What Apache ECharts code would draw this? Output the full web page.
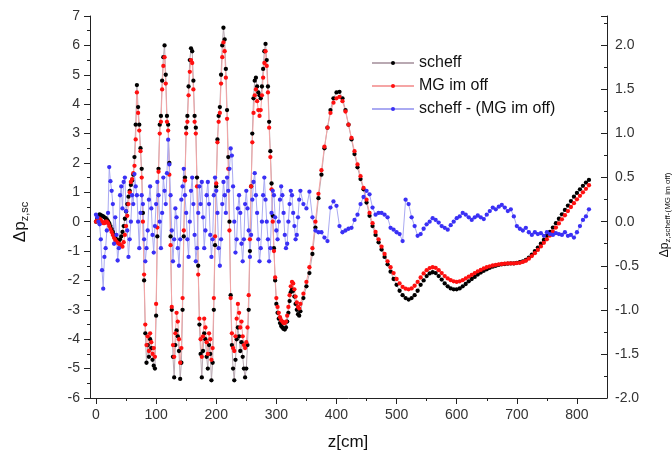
<!DOCTYPE html>
<html>
<head>
<meta charset="utf-8">
<script src="https://cdn.jsdelivr.net/npm/echarts@6/dist/echarts.min.js"></script>
<style>
html,body{margin:0;padding:0;background:#fff;}
#chart{width:672px;height:461px;}
</style>
</head>
<body>
<div id="chart"></div>
<script>
// ---- data ----
const zPos = [
0,2,4,6,8,10,12,14,16,18,
20,22,24,26,28,30,32,34,36,38,
40,42,44,46,48,50,52,54,56,58,
60,62,64,66,68,70,72,74,76,78,
80,82,84,86,88,90,92,94,96,98,
100,102,104,106,108,110,112,114,116,118,
120,122,124,126,128,130,132,134,136,138,
140,142,144,146,148,150,152,154,156,158,
160,162,164,166,168,170,172,174,176,178,
180,182,184,186,188,190,192,194,196,198,
200,202,204,206,208,210,212,214,216,218,
220,222,224,226,228,230,232,234,236,238,
240,242,244,246,248,250,252,254,256,258,
260,262,264,266,268,270,272,274,276,278,
280,282,284,286,288,290,292,294,296,298,
300,302,304,306,308,310,312,314,316,318,
320,322,324,326,328,330,332,334,336,338,340,
345,350,355,360,365,370,375,380,385,390,
395,400,405,410,415,420,425,430,435,440,
445,450,455,460,465,470,475,480,485,490,
495,500,505,510,515,520,525,530,535,540,
545,550,555,560,565,570,575,580,585,590,
595,600,605,610,615,620,625,630,635,640,
645,650,655,660,665,670,675,680,685,690,
695,700,705,710,715,720,725,730,735,740,
745,750,755,760,765,770,775,780,785,790,
795,800,805,810,815,820
];

const scheff = [
0.0,0.1,0.2,0.25,0.22,0.2,0.18,0.15,0.12,0.08,
0.02,-0.05,-0.15,-0.25,-0.35,-0.45,-0.55,-0.6,-0.65,-0.65,
-0.6,-0.5,-0.35,-0.15,0.1,0.35,0.6,0.85,1.05,1.25,
1.4,1.6,2.2,3.3,4.65,3.9,3.3,2.5,1.8,0.3,
-2.0,-3.8,-4.8,-4.2,-4.6,-4.0,-4.3,-4.7,-4.9,-5.0,
-3.2,-0.5,1.8,3.3,3.6,4.8,5.6,6.0,5.0,3.6,
3.3,2.0,-0.5,-3.0,-4.6,-5.3,-4.2,-3.7,-3.9,-4.4,
-5.35,-4.8,-3.0,-0.5,1.5,3.2,3.6,4.6,5.5,5.9,
5.8,4.8,3.6,3.2,1.5,-1.5,-3.5,-4.5,-5.3,-4.4,
-3.8,-4.0,-4.6,-5.0,-4.2,-4.5,-5.4,-4.8,-3.0,-0.8,
1.2,2.8,3.6,3.9,5.0,6.0,6.6,6.2,5.2,3.8,
2.2,0.0,-2.5,-4.2,-5.0,-5.4,-4.7,-4.0,-3.6,-3.9,
-4.4,-4.1,-4.6,-5.0,-5.3,-5.0,-4.2,-3.0,-1.0,1.2,
3.0,4.2,4.8,4.9,4.6,4.4,4.3,4.2,4.6,5.2,
5.8,6.05,5.5,4.6,3.4,2.4,1.3,0.2,-0.9,-2.0,
-2.8,-3.1,-3.3,-3.45,-3.55,-3.6,-3.65,-3.67,-3.6,-3.4,
-3.1,-2.7,-2.4,-2.3,-2.35,-2.55,-2.8,-3.0,-3.15,-3.2,-3.05,
-2.6,-2.2,-1.75,-1.1,-0.2,0.8,1.6,2.5,3.2,3.8,
4.2,4.4,4.42,4.2,3.8,3.3,2.8,2.3,1.85,1.45,
1.1,0.65,0.2,-0.15,-0.45,-0.7,-0.95,-1.2,-1.45,-1.7,
-1.95,-2.15,-2.35,-2.5,-2.6,-2.65,-2.6,-2.5,-2.35,-2.15,
-2.0,-1.85,-1.76,-1.72,-1.75,-1.85,-1.97,-2.1,-2.2,-2.27,
-2.3,-2.3,-2.27,-2.2,-2.12,-2.03,-1.95,-1.88,-1.8,-1.73,
-1.67,-1.62,-1.57,-1.53,-1.5,-1.47,-1.45,-1.44,-1.43,-1.42,
-1.42,-1.4,-1.38,-1.35,-1.3,-1.22,-1.12,-1.0,-0.88,-0.75,
-0.62,-0.48,-0.35,-0.2,-0.05,0.1,0.25,0.4,0.55,0.7,
0.85,0.98,1.1,1.22,1.33,1.42
];

const mgImOff = [
0.0,0.05,0.1,0.1,0.05,0.0,-0.05,-0.05,0.0,0.0,
-0.05,-0.15,-0.25,-0.35,-0.45,-0.55,-0.62,-0.68,-0.72,-0.75,
-0.78,-0.82,-0.85,-0.7,-0.45,-0.15,0.2,0.6,1.0,1.35,
1.45,1.65,1.9,2.8,4.4,3.7,3.1,2.4,1.5,0.0,
-1.8,-3.5,-4.2,-3.9,-4.4,-3.8,-4.1,-4.5,-4.3,-4.6,
-2.8,-0.2,1.7,3.0,3.4,4.5,5.3,5.6,4.7,3.4,
3.1,1.6,-0.8,-2.9,-4.2,-4.6,-3.8,-3.1,-3.4,-4.0,
-4.8,-4.3,-2.6,-0.3,1.4,3.0,3.4,4.3,5.1,5.5,
5.4,4.5,3.4,3.0,1.2,-1.8,-3.3,-4.0,-4.6,-3.9,
-3.3,-3.6,-4.1,-4.5,-3.8,-4.0,-4.7,-4.3,-2.6,-0.5,
1.3,2.7,3.4,3.7,4.7,5.6,6.1,5.8,4.9,3.5,
1.8,-0.3,-2.6,-3.8,-4.3,-4.4,-3.9,-3.3,-2.8,-3.1,
-3.6,-3.4,-3.9,-4.2,-4.3,-4.1,-3.6,-2.5,-0.6,1.2,
2.7,3.7,4.3,4.5,4.1,3.8,3.6,3.8,4.3,4.9,
5.4,5.8,5.3,4.4,3.2,2.2,1.1,0.0,-1.0,-1.9,
-2.6,-2.9,-3.1,-3.25,-3.35,-3.4,-3.45,-3.45,-3.4,-3.2,
-2.9,-2.5,-2.2,-2.05,-2.1,-2.3,-2.55,-2.75,-2.9,-2.95,-2.8,
-2.45,-2.05,-1.55,-0.9,0.0,0.95,1.75,2.55,3.2,3.7,
4.05,4.2,4.25,4.1,3.75,3.3,2.85,2.4,1.95,1.55,
1.15,0.75,0.3,-0.05,-0.35,-0.6,-0.85,-1.1,-1.35,-1.55,
-1.75,-1.95,-2.1,-2.22,-2.28,-2.3,-2.27,-2.18,-2.05,-1.9,
-1.76,-1.65,-1.58,-1.55,-1.57,-1.65,-1.75,-1.85,-1.93,-1.99,
-2.03,-2.05,-2.03,-1.99,-1.93,-1.87,-1.81,-1.75,-1.69,-1.64,
-1.59,-1.55,-1.52,-1.49,-1.47,-1.45,-1.44,-1.43,-1.42,-1.42,
-1.42,-1.41,-1.4,-1.37,-1.33,-1.26,-1.17,-1.07,-0.96,-0.84,
-0.72,-0.6,-0.47,-0.34,-0.2,-0.06,0.08,0.22,0.36,0.5,
0.63,0.76,0.88,1.0,1.12,1.24
];

const scheffMinusMg = [
0.08,0.05,0.0,-0.03,-0.2,-0.55,-0.76,-0.4,-0.3,-0.1,
0.1,0.62,0.46,0.35,0.2,-0.25,0.05,-0.15,-0.44,-0.3,
0.3,0.4,0.15,0.45,0.5,0.12,-0.1,-0.4,-0.2,0.0,
0.3,0.2,0.54,0.4,0.3,0.0,-0.3,0.1,0.3,0.2,
-0.2,-0.45,-0.3,-0.1,0.25,0.4,0.15,-0.15,-0.35,-0.05,
0.2,0.45,0.3,0.0,-0.3,0.1,0.5,0.35,0.2,0.55,
0.93,0.65,0.3,-0.1,-0.45,-0.2,0.15,0.05,-0.3,-0.5,
-0.2,0.25,0.4,0.6,0.3,0.1,-0.2,-0.4,0.0,0.35,
0.5,0.2,-0.15,-0.45,-0.3,0.1,0.4,0.2,0.45,0.05,
-0.3,-0.1,0.3,0.45,0.2,-0.15,-0.4,-0.2,0.3,0.5,
0.35,0.1,-0.3,-0.5,-0.2,0.2,0.45,0.3,0.1,0.5,
0.35,0.6,0.83,0.75,0.4,0.0,-0.35,-0.2,0.15,0.3,
0.1,-0.25,-0.45,-0.2,0.2,0.35,0.15,-0.1,-0.4,-0.15,
0.25,0.45,0.55,0.3,0.1,-0.2,-0.45,-0.3,0.0,0.3,
0.5,0.25,0.0,-0.2,-0.45,-0.3,0.1,0.35,0.3,0.05,
-0.1,-0.2,0.0,0.25,0.4,0.3,0.1,-0.15,-0.3,-0.25,
0.0,0.2,0.35,0.3,0.1,-0.05,-0.2,-0.15,0.05,0.25,0.35,
0.2,0.15,0.34,0.05,-0.1,-0.12,-0.12,-0.18,-0.22,0.16,
0.23,0.18,-0.05,-0.12,-0.1,-0.08,-0.07,0.02,0.08,0.2,
0.28,0.35,0.31,0.16,0.08,0.1,0.1,0.08,0.05,-0.07,
-0.09,-0.12,-0.14,-0.22,0.25,0.2,0.05,-0.05,-0.16,-0.14,
-0.08,-0.03,0.0,0.04,0.02,-0.01,-0.05,-0.07,-0.09,-0.04,
0.0,0.04,0.06,0.1,0.08,0.05,0.02,0.05,0.07,0.05,
0.03,0.08,0.12,0.16,0.14,0.17,0.19,0.16,0.12,0.14,
0.06,-0.05,-0.08,-0.1,-0.07,-0.12,-0.15,-0.12,-0.14,-0.13,
-0.16,-0.12,-0.14,-0.15,-0.13,-0.14,-0.15,-0.12,-0.16,-0.15,
-0.18,-0.12,-0.05,0.02,0.06,0.14
];

const seriesNames = ['scheff', 'MG im off', 'scheff - (MG im off)'];
const xTickValues = [0,100,200,300,400,500,600,700,800];
const xMinorTickValues = [50,150,250,350,450,550,650,750];

// ---- chart ----
const FONT = 'Liberation Sans, Arial, sans-serif';
const AXC = '#222';
const chart = echarts.init(document.getElementById('chart'), null, {renderer:'canvas'});

const pairs = arr => zPos.map((z, i) => [z, arr[i]]);

chart.setOption({
  animation: false,
  backgroundColor: '#fff',
  grid: {left: 90, right: 65, top: 16, bottom: 63, outerBoundsMode: 'none'},
  legend: {
    orient: 'vertical', left: 366, top: 49,
    itemWidth: 42, itemHeight: 5, itemGap: 5,
    textStyle: {fontSize: 16, fontFamily: FONT, color: '#111', lineHeight: 18},
    data: seriesNames
  },
  xAxis: [{
    type: 'value', min: -10, max: 850, position: 'bottom',
    axisLine: {show: true, onZero: false, lineStyle: {color: AXC, width: 1}},
    axisTick: {show: true, length: 6, customValues: xTickValues, lineStyle: {color: AXC}},
    axisLabel: {customValues: xTickValues, fontSize: 14, fontFamily: FONT, color: '#333', margin: 10},
    splitLine: {show: false}
  }, {
    type: 'value', min: -10, max: 850, position: 'bottom',
    axisLine: {show: false, onZero: false},
    axisTick: {show: true, length: 3, customValues: xMinorTickValues, lineStyle: {color: AXC}},
    axisLabel: {show: false},
    splitLine: {show: false}
  }],
  yAxis: [{
    type: 'value', min: -6, max: 7, interval: 1, position: 'left',
    axisLine: {show: true, onZero: false, lineStyle: {color: AXC, width: 1}},
    axisTick: {show: true, length: 6, lineStyle: {color: AXC}},
    minorTick: {show: true, splitNumber: 2, length: 3, lineStyle: {color: AXC}},
    axisLabel: {fontSize: 14, fontFamily: FONT, color: '#333', margin: 10},
    splitLine: {show: false}
  }, {
    type: 'value', min: -2, max: 7/3, interval: 0.5, position: 'right',
    axisLine: {show: true, onZero: false, lineStyle: {color: AXC, width: 1}},
    axisTick: {show: true, inside: true, length: 6, lineStyle: {color: AXC}},
    minorTick: {show: true, splitNumber: 2, length: 3, lineStyle: {color: AXC}},
    axisLabel: {fontSize: 14, fontFamily: FONT, color: '#333', margin: 8, showMaxLabel: false,
      formatter: v => v.toFixed(1)},
    splitLine: {show: false}
  }],
  graphic: [
    {type: 'text', x: 20, y: 222, rotation: Math.PI / 2,
      style: {text: '{a|Δp}{b|z,sc}', align: 'center', verticalAlign: 'middle', fill: '#111',
        rich: {a: {fontSize: 17, fontFamily: FONT, lineHeight: 20, fill: '#111'},
               b: {fontSize: 11, fontFamily: FONT, lineHeight: 9, verticalAlign: 'bottom', fill: '#111'}}}},
    {type: 'text', x: 665, y: 215, rotation: Math.PI / 2,
      style: {text: '{a|Δp}{b|z,scheff-(MG im off)}', align: 'center', verticalAlign: 'middle', fill: '#111',
        rich: {a: {fontSize: 12, fontFamily: FONT, lineHeight: 14, fill: '#111'},
               b: {fontSize: 8, fontFamily: FONT, lineHeight: 6, verticalAlign: 'bottom', fill: '#111'}}}},
    {type: 'text', x: 348, y: 442,
      style: {text: 'z[cm]', align: 'center', verticalAlign: 'middle', fill: '#111',
        fontSize: 17, fontFamily: FONT}}
  ],
  series: [{
    name: seriesNames[0], type: 'line', xAxisIndex: 0, yAxisIndex: 0,
    data: pairs(scheff), symbol: 'circle', symbolSize: 4.3, showSymbol: true,
    lineStyle: {color: '#b9a9b2', width: 1}, itemStyle: {color: '#000'},
    emphasis: {disabled: true}, silent: true
  }, {
    name: seriesNames[1], type: 'line', xAxisIndex: 0, yAxisIndex: 0,
    data: pairs(mgImOff), symbol: 'circle', symbolSize: 4.3, showSymbol: true,
    lineStyle: {color: '#f5a5a5', width: 1}, itemStyle: {color: '#ff1010'},
    emphasis: {disabled: true}, silent: true
  }, {
    name: seriesNames[2], type: 'line', xAxisIndex: 0, yAxisIndex: 1,
    data: pairs(scheffMinusMg), symbol: 'circle', symbolSize: 4.3, showSymbol: true,
    lineStyle: {color: '#aaaaf2', width: 1}, itemStyle: {color: '#3a30f5'},
    emphasis: {disabled: true}, silent: true
  }]
});
</script>
</body>
</html>
